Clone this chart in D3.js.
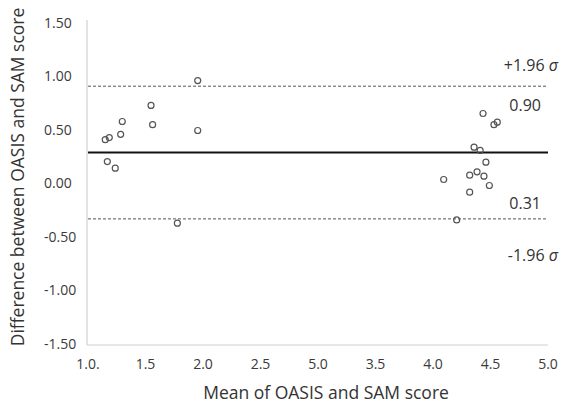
<!DOCTYPE html>
<html><head><meta charset="utf-8">
<script src="https://cdn.jsdelivr.net/npm/d3@7"></script>
<style>body{margin:0;background:#fff}svg{display:block}text{font-family:"Open Sans",sans-serif}</style>
</head><body><svg id="c" width="561" height="407"></svg>
<script>
const xTicks=[1,1.5,2,2.5,3,3.5,4,4.5,5];
const xTickLabels=["1.0.","1.5","2.0","2.5","5.0","3.5","4.0","4.5","5.0"];
const yTicks=[1.5,1,0.5,0,-0.5,-1,-1.5];
const yTickLabels=["1.50","1.00","0.50","0.00","-0.50","-1.00","-1.50"];
const meanX=[1.954,1.548,1.298,1.562,1.954,1.284,1.185,1.150,1.168,1.237,1.777,
             4.435,4.530,4.559,4.357,4.410,4.460,4.093,4.319,4.383,4.443,4.490,4.319,4.206];
const diffY=[0.953,0.72,0.57,0.54,0.486,0.45,0.42,0.40,0.196,0.134,-0.38,
             0.645,0.54,0.564,0.33,0.30,0.19,0.028,0.068,0.10,0.059,-0.028,-0.09,-0.35];
const meanDiff=0.28, upperLoA=0.90, lowerLoA=-0.34;
const annotations=["+1.96 σ","0.90","0.31","-1.96 σ"];

const svg=d3.select("#c");
const x=d3.scaleLinear().domain([1,5]).range([88,548]);
const y=d3.scaleLinear().domain([-1.5,1.5]).range([343,22]);

svg.append("line").attr("x1",87).attr("x2",87).attr("y1",20).attr("y2",345).attr("stroke","#d0d0d0").attr("stroke-width",1.2);
svg.append("line").attr("x1",87).attr("x2",548).attr("y1",345).attr("y2",345).attr("stroke","#d0d0d0").attr("stroke-width",1.2);

svg.selectAll(".xt").data(xTicks).enter().append("text")
  .attr("x",d=>x(d)).attr("y",363).attr("text-anchor","middle").attr("dominant-baseline","central")
  .attr("font-size",14).attr("fill","#3a3a3a").text((d,i)=>xTickLabels[i]);
svg.selectAll(".yt").data(yTicks).enter().append("text")
  .attr("x",44).attr("y",d=>y(d)).attr("text-anchor","start").attr("dominant-baseline","central")
  .attr("font-size",14).attr("fill","#3a3a3a").text((d,i)=>yTickLabels[i]);

[upperLoA,lowerLoA].forEach(v=>{
  svg.append("line").attr("x1",x(1)).attr("x2",x(5)).attr("y1",y(v)).attr("y2",y(v))
    .attr("stroke","#555").attr("stroke-width",1).attr("stroke-dasharray","3,2");
});
svg.append("line").attr("x1",x(1)).attr("x2",x(5)).attr("y1",y(meanDiff)).attr("y2",y(meanDiff))
  .attr("stroke","#111").attr("stroke-width",2);

svg.selectAll(".pt").data(meanX).enter().append("circle")
  .attr("cx",d=>x(d)).attr("cy",(d,i)=>y(diffY[i])).attr("r",3)
  .attr("fill","none").attr("stroke","#555").attr("stroke-width",1.2);

const annY=[65,105,203,255];
annotations.forEach((t,i)=>{
  const el=svg.append("text").attr("x",i===0||i===3?558:541).attr("y",annY[i]).attr("text-anchor","end")
    .attr("dominant-baseline","central").attr("font-size",16).attr("fill","#333");
  if(t.includes("σ")){
    el.append("tspan").text(t.replace(" σ"," "));
    el.append("tspan").attr("font-style","italic").text("σ");
  } else el.text(t);
});

svg.append("text").attr("x",326).attr("y",392).attr("text-anchor","middle").attr("dominant-baseline","central")
  .attr("font-size",17.5).attr("fill","#333").text("Mean of OASIS and SAM score");
svg.append("text").attr("transform","translate(17,177) rotate(-90)").attr("text-anchor","middle")
  .attr("dominant-baseline","central").attr("font-size",17.5).attr("fill","#333")
  .text("Difference between OASIS and SAM score");
</script></body></html>
